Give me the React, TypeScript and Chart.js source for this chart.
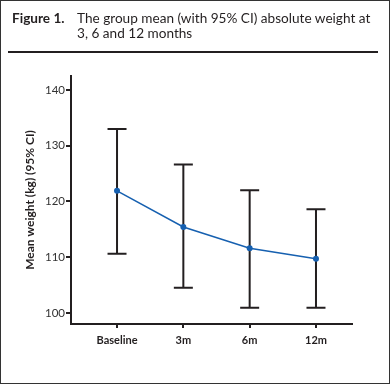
import React, { useEffect, useRef } from "react";
import { Chart, registerables } from "chart.js";

Chart.register(...registerables);

const categories = ["Baseline", "3m", "6m", "12m"];
const meanWeight = [121.9, 115.4, 111.6, 109.7];
const upperCI = [133.0, 126.6, 122.0, 118.6];
const lowerCI = [110.6, 104.5, 100.9, 100.9];
const yTicks = [100, 110, 120, 130, 140];

const FONT = "Lato, 'Open Sans', 'Liberation Sans', sans-serif";
const INK = "#231f20";
const BLUE = "#1660b0";

const errorBarPlugin = {
  id: "errorBars",
  beforeDatasetsDraw(chart: any) {
    const { ctx, scales } = chart;
    const xs = scales.x;
    const ys = scales.y;
    ctx.save();
    ctx.strokeStyle = INK;
    ctx.lineWidth = 2;
    categories.forEach((_, i) => {
      const x = xs.getPixelForValue(i);
      const yt = ys.getPixelForValue(upperCI[i]);
      const yb = ys.getPixelForValue(lowerCI[i]);
      ctx.beginPath();
      ctx.moveTo(x, yt);
      ctx.lineTo(x, yb);
      ctx.moveTo(x - 9.5, yt);
      ctx.lineTo(x + 9.5, yt);
      ctx.moveTo(x - 9.5, yb);
      ctx.lineTo(x + 9.5, yb);
      ctx.stroke();
    });
    ctx.restore();
  },
};

export default function App() {
  const ref = useRef<HTMLCanvasElement | null>(null);

  useEffect(() => {
    if (!ref.current) return;
    const chart = new Chart(ref.current, {
      type: "line",
      data: {
        datasets: [
          {
            data: meanWeight.map((v, i) => ({ x: i, y: v })),
            borderColor: BLUE,
            borderWidth: 1.5,
            pointRadius: 3,
            pointBackgroundColor: BLUE,
            pointBorderWidth: 0,
            tension: 0,
          },
        ],
      },
      options: {
        responsive: false,
        animation: false,
        plugins: { legend: { display: false }, tooltip: { enabled: false } },
        layout: { padding: { left: 23, top: 76, right: 38, bottom: 30 } },
        scales: {
          x: {
            type: "linear",
            min: -0.694,
            max: 3.543,
            afterBuildTicks: (scale: any) => {
              scale.ticks = categories.map((_, i) => ({ value: i }));
            },
            afterFit: (scale: any) => {
              scale.height = 30;
            },
            ticks: {
              callback: (v: any) => categories[v] ?? "",
              font: { family: FONT, size: 11, weight: "bold" },
              color: INK,
              padding: 6,
              autoSkip: false,
              maxRotation: 0,
            },
            grid: {
              display: true,
              drawOnChartArea: false,
              drawTicks: true,
              tickLength: 4,
              color: INK,
              lineWidth: 2,
            },
            border: { display: true, color: INK, width: 2 },
          },
          y: {
            type: "linear",
            min: 98,
            max: 142.5,
            afterBuildTicks: (scale: any) => {
              scale.ticks = yTicks.map((v) => ({ value: v }));
            },
            afterFit: (scale: any) => {
              scale.width = 48;
            },
            ticks: {
              font: { family: FONT, size: 11.5 },
              color: "#333",
              padding: 1,
            },
            grid: {
              display: true,
              drawOnChartArea: false,
              drawTicks: true,
              tickLength: 5,
              color: INK,
              lineWidth: 2,
            },
            border: { display: true, color: INK, width: 2 },
            title: {
              display: true,
              text: "Mean weight (kg) (95% CI)",
              font: { family: FONT, size: 12, weight: "bold" },
              color: INK,
              padding: 0,
            },
          },
        },
      },
      plugins: [errorBarPlugin],
    });
    return () => chart.destroy();
  }, []);

  return (
    <div
      style={{
        position: "fixed",
        left: 0,
        top: 0,
        width: 390,
        height: 384,
        background: "#fff",
        fontFamily: FONT,
        color: INK,
      }}
    >
      <canvas
        ref={ref}
        width={390}
        height={384}
        style={{ position: "absolute", left: 0, top: 0, width: 390, height: 384 }}
      />
      <div
        style={{
          position: "absolute",
          left: 12,
          top: 11,
          fontSize: 13.6,
          lineHeight: "15px",
          display: "flex",
        }}
      >
        <div style={{ fontWeight: "bold", width: 65 }}>Figure 1.</div>
        <div style={{ width: 305, whiteSpace: "nowrap" }}>
          The group mean (with 95% CI) absolute weight at
          <br />3, 6 and 12 months
        </div>
      </div>
      <div
        style={{
          position: "absolute",
          left: 8,
          top: 51,
          width: 370,
          height: 2,
          background: INK,
        }}
      />
      <div
        style={{
          position: "absolute",
          left: 0,
          top: 0,
          width: 390,
          height: 384,
          boxSizing: "border-box",
          border: "1px solid #333",
          pointerEvents: "none",
        }}
      />
    </div>
  );
}
